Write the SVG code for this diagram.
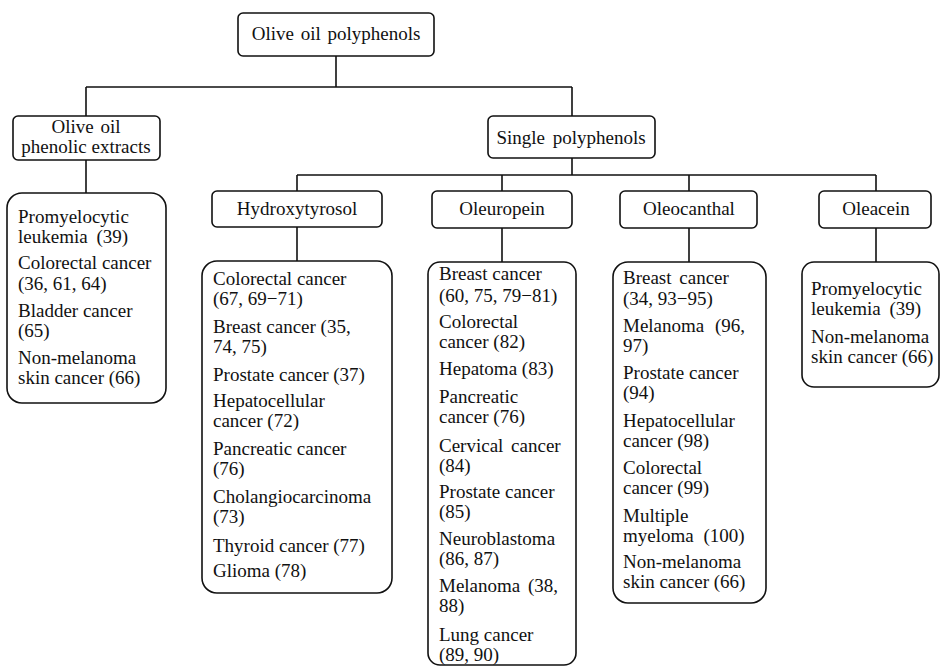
<svg xmlns="http://www.w3.org/2000/svg" width="941" height="666" viewBox="0 0 941 666">
<style>
text{font-family:"Liberation Serif","Times New Roman",Times,Tinos,"Noto Serif","DejaVu Serif",FreeSerif,"Nimbus Roman","Nimbus Roman No9 L",serif;font-size:19px;fill:#111}
.c{text-anchor:middle}
.lbl{fill:#fff;stroke:#111;stroke-width:1.6}
.box{fill:#fff;stroke:#111;stroke-width:1.6}
.conn{fill:none;stroke:#111;stroke-width:1.6}
</style>
<rect width="941" height="666" fill="#fff"/>
<g id="connectors" class="conn">
<path d="M336 56V87M86 87H572M86 87V116M572 87V116"/>
<path d="M86 160V193"/>
<path d="M572 158V175M297 175H876M297 175V191M502 175V191M689 175V191M876 175V191"/>
<path d="M297 227V261M502 228V262M689 228V262M876 228V262"/>
</g>
<g id="root"><rect class="lbl" x="238" y="13" width="196" height="43" rx="5"/><text class="c" x="336" y="40" word-spacing="2">Olive oil polyphenols</text></g>
<g id="extracts"><rect class="lbl" x="13" y="116" width="147" height="44" rx="5"/><text class="c" x="86" y="133" word-spacing="2">Olive oil</text><text class="c" x="86" y="153">phenolic extracts</text></g>
<g id="single"><rect class="lbl" x="488" y="116" width="167" height="42" rx="5"/><text class="c" x="571" y="144" word-spacing="3">Single polyphenols</text></g>
<g id="hydroxytyrosol"><rect class="lbl" x="212" y="191" width="170" height="36" rx="5"/><text class="c" x="297" y="215">Hydroxytyrosol</text></g>
<g id="oleuropein"><rect class="lbl" x="432" y="191" width="140" height="37" rx="5"/><text class="c" x="502" y="215">Oleuropein</text></g>
<g id="oleocanthal"><rect class="lbl" x="620" y="191" width="137" height="37" rx="5"/><text class="c" x="689" y="215">Oleocanthal</text></g>
<g id="oleacein"><rect class="lbl" x="819" y="191" width="112" height="37" rx="5"/><text class="c" x="876" y="215">Oleacein</text></g>
<g id="extracts-list"><rect class="box" x="7" y="193" width="159" height="210" rx="15"/>
<text x="18" y="223">Promyelocytic</text><text x="18" y="243" word-spacing="4">leukemia (39)</text>
<text x="18" y="269">Colorectal cancer</text><text x="18" y="290">(36, 61, 64)</text>
<text x="18" y="317">Bladder cancer</text><text x="18" y="337">(65)</text>
<text x="18" y="364">Non-melanoma</text><text x="18" y="384">skin cancer (66)</text></g>
<g id="hydroxytyrosol-list"><rect class="box" x="202" y="261" width="190" height="332" rx="15"/>
<text x="213" y="285">Colorectal cancer</text><text x="213" y="305">(67, 69−71)</text>
<text x="213" y="333">Breast cancer (35,</text><text x="213" y="353">74, 75)</text>
<text x="213" y="381">Prostate cancer (37)</text>
<text x="213" y="407">Hepatocellular</text><text x="213" y="427">cancer (72)</text>
<text x="213" y="455">Pancreatic cancer</text><text x="213" y="475">(76)</text>
<text x="213" y="503">Cholangiocarcinoma</text><text x="213" y="523">(73)</text>
<text x="213" y="552">Thyroid cancer (77)</text>
<text x="213" y="577">Glioma (78)</text></g>
<g id="oleuropein-list"><rect class="box" x="428" y="262" width="148" height="403" rx="12"/>
<text x="439" y="280">Breast cancer</text><text x="439" y="302">(60, 75, 79−81)</text>
<text x="439" y="328">Colorectal</text><text x="439" y="348">cancer (82)</text>
<text x="439" y="375">Hepatoma (83)</text>
<text x="439" y="403">Pancreatic</text><text x="439" y="423">cancer (76)</text>
<text x="439" y="452" word-spacing="3">Cervical cancer</text><text x="439" y="472">(84)</text>
<text x="439" y="498">Prostate cancer</text><text x="439" y="518">(85)</text>
<text x="439" y="545">Neuroblastoma</text><text x="439" y="565">(86, 87)</text>
<text x="439" y="592" word-spacing="3">Melanoma (38,</text><text x="439" y="612">88)</text>
<text x="439" y="641">Lung cancer</text><text x="439" y="661">(89, 90)</text></g>
<g id="oleocanthal-list"><rect class="box" x="613" y="262" width="153" height="341" rx="15"/>
<text x="623" y="284" word-spacing="3">Breast cancer</text><text x="623" y="305">(34, 93−95)</text>
<text x="623" y="332" word-spacing="6">Melanoma (96,</text><text x="623" y="352">97)</text>
<text x="623" y="379">Prostate cancer</text><text x="623" y="399">(94)</text>
<text x="623" y="427">Hepatocellular</text><text x="623" y="447">cancer (98)</text>
<text x="623" y="474">Colorectal</text><text x="623" y="494">cancer (99)</text>
<text x="623" y="522">Multiple</text><text x="623" y="542" word-spacing="5">myeloma (100)</text>
<text x="623" y="568">Non-melanoma</text><text x="623" y="588">skin cancer (66)</text></g>
<g id="oleacein-list"><rect class="box" x="802" y="262" width="137" height="125" rx="12"/>
<text x="811" y="295">Promyelocytic</text><text x="811" y="315" word-spacing="4">leukemia (39)</text>
<text x="811" y="343">Non-melanoma</text><text x="811" y="363">skin cancer (66)</text></g>
</svg>
